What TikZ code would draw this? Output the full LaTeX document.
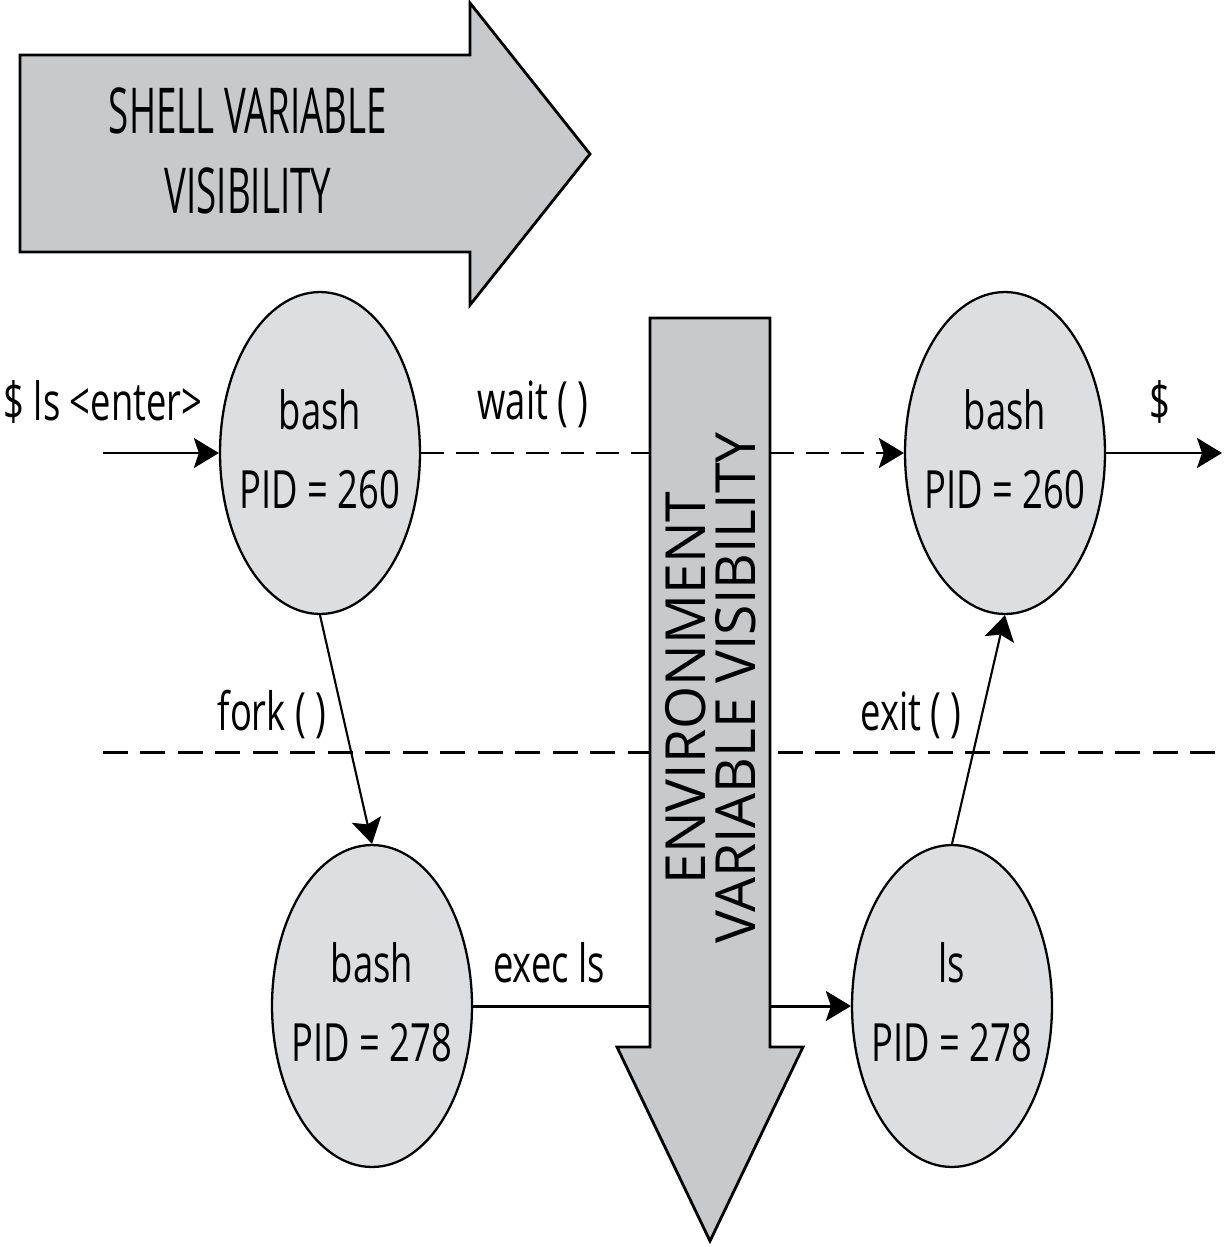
\documentclass[tikz,border=0pt]{standalone}
\usepackage{fontspec}
\setmainfont{Open Sans}[FakeStretch=0.69]
\newfontfamily\titlefont{Open Sans}[FakeStretch=0.58]
\newfontfamily\bandfont{Open Sans}
\usetikzlibrary{arrows.meta,shapes.geometric}
\definecolor{bandgray}{RGB}{200,201,203}
\definecolor{procgray}{RGB}{221,222,224}
% two-line process label that does not widen the ellipse
\newcommand\proctext[2]{\makebox[0pt]{\begin{tabular}{@{}c@{}}#1\\#2\end{tabular}}}

\begin{document}
\begin{tikzpicture}[x=0.02cm,y=-0.02cm,
  proc/.style={ellipse, draw, line width=1.3pt, fill=procgray,
    minimum width=4cm, minimum height=6.44cm, inner sep=0pt,
    font=\fontsize{30}{45.5}\selectfont},
  band/.style={draw, line width=1.6pt, fill=bandgray, line join=miter},
  lbl/.style={anchor=base, inner sep=0pt, font=\fontsize{30}{36}\selectfont},
  titletext/.style={anchor=base, inner sep=0pt, font=\titlefont\fontsize{36}{44}\selectfont},
  bandtext/.style={anchor=base, inner sep=0pt, rotate=90, font=\bandfont\fontsize{31.5}{36}\selectfont},
  tip/.tip={Stealth[length=0.5cm,width=0.6cm,inset=0.1cm]},
  flow/.style={line width=1.7pt, -tip},
  call/.style={line width=1.2pt, -tip},
  waitline/.style={line width=1.7pt, dash pattern=on 0.45cm off 0.25cm, -tip},
  boundary/.style={line width=1.7pt, dash pattern=on 0.5cm off 0.25cm},
]
\useasboundingbox (0,0) rectangle (1225,1247);

% shell variable scope arrow
\draw[band] (20,55) -- (470,55) -- (470,3) -- (590,154) -- (470,305)
  -- (470,252) -- (20,252) -- cycle;
\node[titletext] (t1) at (248,133) {SHELL VARIABLE};
\node[titletext] (t2) at (248,213) {VISIBILITY};

% processes
\node[proc] (b1) at (320,453) {\proctext{bash}{PID = 260}};
\node[proc] (b3) at (1005,453) {\proctext{bash}{PID = 260}};
\node[proc] (b2) at (372,1006) {\proctext{bash}{PID = 278}};
\node[proc] (b4) at (952,1006) {\proctext{ls}{PID = 278}};

\coordinate (in) at (103,453);
\coordinate (out) at (1222,453);
\coordinate (sepL) at (103,752);
\coordinate (sepR) at (1225,752);

% parent / child boundary
\draw[boundary] (sepL) -- (sepR);

% connectors
\draw[flow] (in) -- (b1.west);
\draw[waitline] (b1.east) -- (b3.west);
\draw[flow] (b3.east) -- (out);
\draw[call] (b1.south) -- (b2.north);
\draw[call] (b4.north) -- (b3.south);
\draw[flow] (b2.east) -- (b4.west);

% labels
\node[lbl] (lin) at (103,420) {\$ ls <enter>};
\node[lbl] (lwait) at (533,419) {wait ( )};
\node[lbl] (lout) at (1160,420) {\$};
\node[lbl] (lfork) at (272,730) {fork ( )};
\node[lbl] (lexit) at (911,730) {exit ( )};
\node[lbl] (lexec) at (549,982) {exec ls};

% environment variable scope arrow
\draw[band] (650,318) -- (770,318) -- (770,1047) -- (803,1047) -- (710,1241)
  -- (617,1047) -- (650,1047) -- cycle;
\node[bandtext] (e1) at (705,688) {ENVIRONMENT};
\node[bandtext] (e2) at (755,688) {VARIABLE VISIBILITY};
\end{tikzpicture}
\end{document}
